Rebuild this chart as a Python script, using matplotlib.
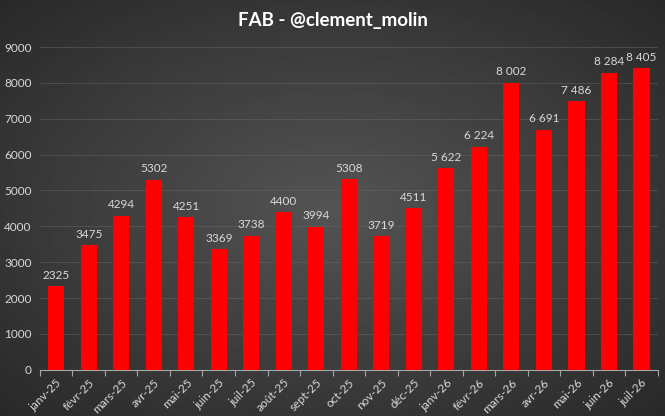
"""FAB monthly bar chart, dark Excel-style theme."""

import matplotlib
matplotlib.use("Agg")
import matplotlib.pyplot as plt
import numpy as np

MONTHS = [
    "janv-25", "févr-25", "mars-25", "avr-25", "mai-25", "juin-25", "juil-25",
    "août-25", "sept-25", "oct-25", "nov-25", "déc-25", "janv-26", "févr-26",
    "mars-26", "avr-26", "mai-26", "juin-26", "juil-26",
]
VALUES = [
    2325, 3475, 4294, 5302, 4251, 3369, 3738, 4400, 3994, 5308, 3719, 4511,
    5622, 6224, 8002, 6691, 7486, 8284, 8405,
]
# labels from 2026 onwards use a space as thousands separator
SPACED_FROM = 12
Y_TICKS = list(range(0, 9001, 1000))

plt.rcParams["font.family"] = ["Lato", "DejaVu Sans"]


def label_text(i: int, v: int) -> str:
    if i >= SPACED_FROM:
        return f"{v:,}".replace(",", " ")
    return str(v)


def draw_background(fig: plt.Figure) -> None:
    bg = fig.add_axes([0, 0, 1, 1], zorder=-10)
    yy, xx = np.mgrid[-1:1:300j, -1:1:400j]
    r = np.sqrt(xx ** 2 + yy ** 2) / np.sqrt(2)
    shade = 0.33 - 0.17 * r
    bg.imshow(shade, cmap="gray", vmin=0, vmax=1, aspect="auto",
              extent=(0, 1, 0, 1), interpolation="bilinear")
    bg.set_axis_off()


def main() -> None:
    fig = plt.figure(figsize=(6.65, 4.16), dpi=100)
    draw_background(fig)
    ax = fig.add_axes([0.060, 0.111, 0.929, 0.776])
    ax.patch.set_alpha(0)

    x = np.arange(len(MONTHS))
    ax.bar(x, VALUES, width=0.5, color="#ff0000", zorder=3)
    for i, v in enumerate(VALUES):
        ax.text(i, v + 150, label_text(i, v), ha="center", va="bottom",
                color="#d9d9d9", fontsize=8.5)

    ax.set_xlim(-0.5, len(MONTHS) - 0.5)
    ax.set_ylim(0, 9000)
    ax.set_yticks(Y_TICKS)
    ax.set_yticklabels([str(t) for t in Y_TICKS], color="#d9d9d9", fontsize=8.5)
    ax.tick_params(axis="y", length=0, pad=6)
    ax.grid(axis="y", color="#666666", linewidth=0.6, alpha=0.6, zorder=0)

    ax.set_xticks(x)
    ax.set_xticklabels(MONTHS, rotation=45, ha="right", rotation_mode="anchor",
                       color="#d9d9d9", fontsize=8.5)
    ax.tick_params(axis="x", which="major", length=0, pad=5)
    ax.set_xticks(np.arange(-0.5, len(MONTHS)), minor=True)
    ax.tick_params(axis="x", which="minor", length=4, color="#a6a6a6", width=0.8)

    for side in ["top", "right", "left"]:
        ax.spines[side].set_visible(False)
    ax.spines["bottom"].set_color("#a6a6a6")
    ax.spines["bottom"].set_linewidth(0.8)

    fig.text(0.5, 0.951, "FAB - @clement_molin", ha="center", va="center",
             color="white", fontsize=13.5, fontweight="bold")

    fig.savefig("out.png", dpi=100)
    plt.close(fig)


if __name__ == "__main__":
    main()
